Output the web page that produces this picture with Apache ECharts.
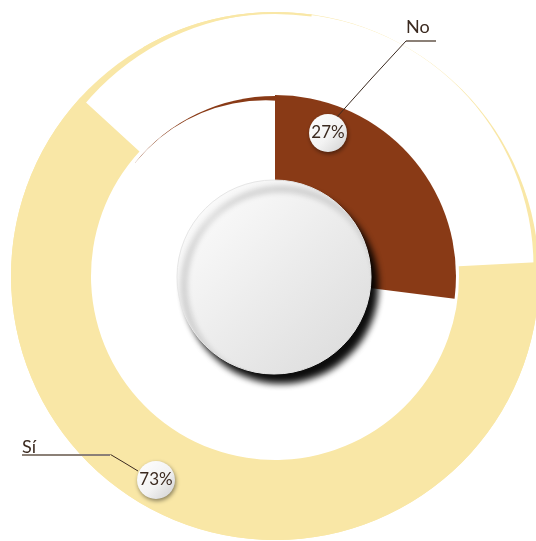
<!DOCTYPE html>
<html>
<head>
<meta charset="utf-8">
<script src="https://cdn.jsdelivr.net/npm/echarts@6/dist/echarts.min.js"></script>
<style>
  html, body { margin: 0; padding: 0; background: #fff; }
  #chart { width: 536px; height: 541px; }
</style>
</head>
<body>
<div id="chart"></div>
<script>
  // 数据
  const categories = ['No', 'Sí']
  const values = [27, 73]
  const sliceColors = ['#893a16', '#f9e7a6']

  const C = [275, 276] // 圆心
  const yellow = sliceColors[1]
  const brown = sliceColors[0]
  const textColor = '#3b2a20'
  const font = 'Lato, "Open Sans", sans-serif'

  // θ: 从顶部顺时针的角度 -> echarts 角度
  const ang = t => 90 - t
  const offset = (d, t) => [C[0] + d * Math.sin(t * Math.PI / 180), C[1] - d * Math.cos(t * Math.PI / 180)]

  // 标注位置
  const namePos = {
    'No': { x: 406, y: 42, line: [[337, 117], [371, 79], [406, 41]] },
    'Sí': { x: 22, y: 456, line: [[138, 471], [124, 462.5], [110.5, 454.5]] }
  }
  const bubblePos = { 'No': [328, 133], 'Sí': [156, 480] }

  const plain = {
    type: 'pie',
    silent: true,
    label: { show: false },
    labelLine: { show: false },
    emphasis: { disabled: true },
    avoidLabelOverlap: false
  }
  function disc(center, r, color, z, extra) {
    return Object.assign({}, plain, {
      center: center, radius: [0, r], z: z,
      data: [{ value: 1, itemStyle: Object.assign({ color: color, borderWidth: 0 }, extra || {}) }]
    })
  }
  function arc(r, from, to, color, z) {
    return Object.assign({}, plain, {
      center: C, radius: r, z: z, clockwise: true,
      startAngle: ang(from), endAngle: ang(to),
      data: [{ value: 1, itemStyle: { color: color, borderWidth: 0 } }]
    })
  }

  const outerOrder = [1, 0] // Sí 在前
  const outerData = outerOrder.map(i => ({
    name: categories[i], value: values[i],
    itemStyle: { color: i === 1 ? sliceColors[i] : 'transparent', borderWidth: 0 }
  }))
  const wedgeData = categories.map((c, i) => ({
    name: c, value: values[i],
    itemStyle: { color: i === 0 ? sliceColors[i] : 'transparent', borderWidth: 0 }
  }))
  const ghostData = categories.map((c, i) => ({
    name: c, value: values[i], itemStyle: { color: 'transparent', borderWidth: 0 }
  }))

  const chart = echarts.init(document.getElementById('chart'))
  chart.setOption({
    animation: false,
    backgroundColor: '#fff',
    series: [
      // 外圈细边
      disc(C, 264, yellow, 1),
      disc(offset(10, 27), 254, '#fff', 1),
      arc([262, 264], 330, 368, yellow, 1),
      // 外环 Sí
      Object.assign({}, plain, {
        name: 'outer',
        center: C,
        radius: [184, 264],
        startAngle: 3,
        endAngle: -306,
        clockwise: true,
        z: 3,
        data: outerData
      }),
      // 棕色细弧
      arc([0, 180], 309, 360, brown, 2),
      disc(offset(12, 310), 168, '#fff', 2),
      // 内部扇区 No
      Object.assign({}, plain, {
        name: 'inner',
        center: C,
        radius: [0, 181],
        startAngle: 90,
        clockwise: true,
        z: 2,
        data: wedgeData
      }),
      // 中心圆
      disc([274, 277], 97, new echarts.graphic.LinearGradient(0, 0, 1, 1, [
        { offset: 0, color: '#ffffff' },
        { offset: 1, color: '#dadada' }
      ]), 2, {
        borderColor: '#e6e6e6', borderWidth: 1,
        shadowColor: 'rgba(0,0,0,0.95)', shadowBlur: 6, shadowOffsetX: 7, shadowOffsetY: 9
      }),
      // 名称 + 引导线
      {
        type: 'pie',
        name: 'names',
        center: C,
        radius: [0, 181],
        startAngle: 90,
        z: 4,
        silent: true,
        avoidLabelOverlap: false,
        emphasis: { disabled: true },
        data: ghostData,
        label: {
          show: true,
          position: 'outside',
          fontFamily: font,
          formatter: p => p.name === 'No' ? '{n|No}\n{u1|}' : '{s|Sí}\n{u2|}',
          rich: {
            n: { fontSize: 18, lineHeight: 26, color: textColor, fontFamily: font },
            s: { fontSize: 18, lineHeight: 14, color: textColor, fontFamily: font },
            u1: { width: 30, height: 2, lineHeight: 2, backgroundColor: '#8b8077' },
            u2: { width: 88, height: 2, lineHeight: 2, backgroundColor: '#8b8077' }
          }
        },
        labelLine: { show: true, lineStyle: { color: textColor, width: 1 } },
        labelLayout: function (params) {
          const p = namePos[ghostData[params.dataIndex].name]
          return { x: p.x, y: p.y, align: 'left', verticalAlign: 'bottom', labelLinePoints: p.line }
        }
      },
      // 百分比气泡
      {
        type: 'pie',
        name: 'bubbles',
        center: C,
        radius: [0, 181],
        startAngle: 90,
        z: 5,
        silent: true,
        emphasis: { disabled: true },
        avoidLabelOverlap: false,
        data: ghostData,
        label: {
          show: true,
          position: 'inside',
          formatter: '{d}%',
          fontFamily: font,
          fontSize: 17,
          color: textColor,
          width: 38,
          height: 38,
          lineHeight: 38,
          align: 'center',
          borderRadius: 19,
          backgroundColor: new echarts.graphic.LinearGradient(0, 0, 1, 1, [
            { offset: 0, color: '#ffffff' },
            { offset: 0.55, color: '#f3f3f3' },
            { offset: 1, color: '#cfcfcf' }
          ]),
          shadowColor: 'rgba(0,0,0,0.45)',
          shadowBlur: 4,
          shadowOffsetX: 1,
          shadowOffsetY: 2
        },
        labelLine: { show: false },
        labelLayout: function (params) {
          const p = bubblePos[ghostData[params.dataIndex].name]
          return { x: p[0], y: p[1], align: 'center', verticalAlign: 'middle' }
        }
      }
    ]
  })
</script>
</body>
</html>
